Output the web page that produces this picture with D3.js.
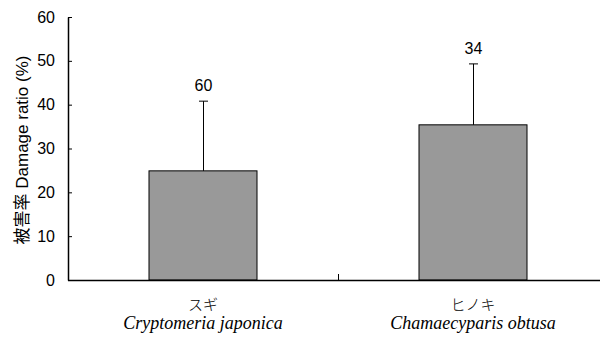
<!DOCTYPE html>
<html>
<head>
<meta charset="utf-8">
<script src="https://cdn.jsdelivr.net/npm/d3@7"></script>
<style>
  html, body { margin: 0; padding: 0; background: #fff; }
  svg { display: block; }
</style>
</head>
<body>
<div id="chart"></div>
<script>
// Damage ratio by tree species, with standard deviation and sample size
const speciesJa = ["スギ", "ヒノキ"];
const speciesLatin = ["Cryptomeria japonica", "Chamaecyparis obtusa"];
const meanDamage = [24.9, 35.4];
const sdDamage = [15.9, 13.9];
const sampleSize = ["60", "34"];
const yTicks = [0, 10, 20, 30, 40, 50, 60];

const width = 600, height = 338;
const margin = { left: 68, top: 17, bottom: 58 };
const plotBottom = height - margin.bottom; // 280

const svg = d3.select("#chart").append("svg")
  .attr("width", width).attr("height", height);

const x = d3.scaleBand()
  .domain(speciesLatin)
  .range([margin.left, margin.left + 540])
  .paddingInner(0.6)
  .paddingOuter(0.3);

const y = d3.scaleLinear().domain([0, 60]).range([plotBottom, margin.top]);

const sans = "'Liberation Sans', Arial, sans-serif";

// Bars
svg.selectAll("rect.bar")
  .data(speciesLatin)
  .join("rect")
  .attr("class", "bar")
  .attr("x", d => x(d))
  .attr("y", (d, i) => y(meanDamage[i]))
  .attr("width", x.bandwidth())
  .attr("height", (d, i) => plotBottom - y(meanDamage[i]))
  .attr("fill", "#999999")
  .attr("stroke", "#000")
  .attr("stroke-width", 1);

// Upper error bars with sample size above
const err = svg.append("g").attr("stroke", "#000").attr("stroke-width", 1);
speciesLatin.forEach((d, i) => {
  const cx = Math.round(x(d) + x.bandwidth() / 2) + 0.5;
  const yTop = y(meanDamage[i] + sdDamage[i]);
  err.append("line").attr("x1", cx).attr("x2", cx)
    .attr("y1", y(meanDamage[i])).attr("y2", yTop);
  err.append("line").attr("x1", cx - 4.5).attr("x2", cx + 4.5)
    .attr("y1", yTop).attr("y2", yTop);
  svg.append("text")
    .attr("x", cx)
    .attr("y", yTop - 10)
    .attr("text-anchor", "middle")
    .attr("font-family", sans)
    .attr("font-size", 16)
    .attr("fill", "#000")
    .text(sampleSize[i]);
});

// Y axis
const yAxis = d3.axisLeft(y).tickValues(yTicks).tickSizeInner(-4).tickSizeOuter(0).tickPadding(13);
const gy = svg.append("g").attr("transform", `translate(${margin.left},0)`).call(yAxis);
gy.select(".domain").attr("stroke", "#000").attr("stroke-width", 1.5);
gy.selectAll(".tick line").attr("stroke", "#000");
gy.selectAll(".tick text").attr("font-family", sans).attr("font-size", 16).attr("fill", "#000");

// X axis baseline and category separator ticks
svg.append("line")
  .attr("x1", margin.left).attr("x2", width)
  .attr("y1", plotBottom + 0.5).attr("y2", plotBottom + 0.5)
  .attr("stroke", "#000").attr("stroke-width", 1.5);
const step = x.step();
for (let i = 1; i < speciesLatin.length; i++) {
  const bx = Math.round(margin.left + step * i) + 0.5;
  svg.append("line").attr("x1", bx).attr("x2", bx)
    .attr("y1", plotBottom).attr("y2", plotBottom - 6)
    .attr("stroke", "#000");
}

// Category labels
speciesLatin.forEach((d, i) => {
  const cx = x(d) + x.bandwidth() / 2;
  svg.append("text")
    .attr("x", cx).attr("y", 310)
    .attr("text-anchor", "middle")
    .attr("font-family", "'Noto Sans CJK JP', sans-serif")
    .attr("font-weight", 300)
    .attr("font-size", 15)
    .attr("fill", "#000")
    .text(speciesJa[i]);
  svg.append("text")
    .attr("x", cx).attr("y", 329)
    .attr("text-anchor", "middle")
    .attr("font-family", "'Liberation Serif', 'Times New Roman', serif")
    .attr("font-style", "italic")
    .attr("font-size", 18)
    .attr("fill", "#000")
    .text(d);
});

// Y axis title
svg.append("text")
  .attr("transform", `translate(28,150) rotate(-90)`)
  .attr("text-anchor", "middle")
  .attr("font-family", sans + ", 'Noto Sans CJK JP'")
  .attr("font-size", 17)
  .attr("fill", "#000")
  .text("被害率 Damage ratio (%)");
</script>
</body>
</html>
